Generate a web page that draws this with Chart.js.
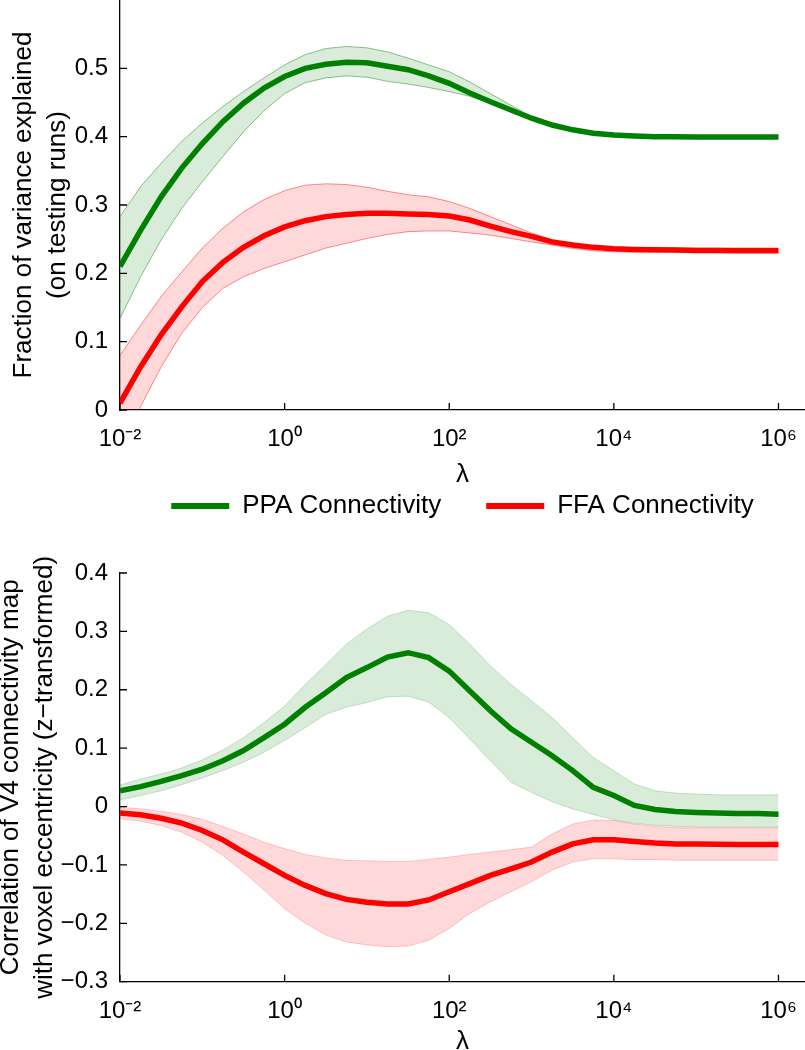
<!DOCTYPE html>
<html><head><meta charset="utf-8">
<script src="https://cdn.jsdelivr.net/npm/chart.js@4.4.1/dist/chart.umd.min.js"></script>
<style>
html,body{margin:0;padding:0;background:#fff;overflow:hidden;width:805px;height:1050px;}
#c1{position:absolute;left:0;top:0;}
#c2{position:absolute;left:0;top:420px;}
</style></head><body>
<canvas id="c1" width="805" height="490"></canvas>
<canvas id="c2" width="805" height="650"></canvas>
<script>
// ---- data ----
const lambdas = [0.01, 0.01778, 0.03162, 0.05623, 0.1, 0.1778, 0.3162, 0.5623, 1, 1.778, 3.162, 5.623,
  10, 17.78, 31.62, 56.23, 100, 177.8, 316.2, 562.3, 1000, 1778, 3162, 5623,
  10000, 17780, 31620, 56230, 100000, 177800, 316200, 562300, 1000000];

const xTickValues = [1e-2, 1e0, 1e2, 1e4, 1e6];
const xTickLabels = ['10\u207B\u00B2', '10\u2070', '10\u00B2', '10\u2074', '10\u2076'];
const topYTicks = [0, 0.1, 0.2, 0.3, 0.4, 0.5];
const bottomYTicks = [-0.3, -0.2, -0.1, 0, 0.1, 0.2, 0.3, 0.4];
const seriesNames = ['PPA Connectivity', 'FFA Connectivity'];
const xTitle = '\u03BB';
const topYTitle = ['Fraction of variance explained', '(on testing runs)'];
const bottomYTitle = ['Correlation of V4 connectivity map', 'with voxel eccentricity (z\u2212transformed)'];

// top panel: fraction of variance explained
const ppaVarMean = [0.210, 0.263, 0.312, 0.354, 0.390, 0.422, 0.449, 0.471, 0.488, 0.500, 0.506, 0.509,
  0.508, 0.503, 0.498, 0.489, 0.478, 0.464, 0.451, 0.439, 0.427, 0.417, 0.410, 0.405,
  0.4025, 0.401, 0.400, 0.3998, 0.3996, 0.3995, 0.3995, 0.3995, 0.3995];
const ppaVarUpper = [0.283, 0.327, 0.361, 0.393, 0.420, 0.444, 0.466, 0.486, 0.505, 0.520, 0.529, 0.532,
  0.530, 0.524, 0.515, 0.505, 0.495, 0.480, 0.463, 0.446, 0.429, 0.418, 0.411, 0.406,
  0.404, 0.403, 0.4025, 0.4022, 0.402, 0.402, 0.402, 0.402, 0.402];
const ppaVarLower = [0.134, 0.195, 0.249, 0.295, 0.334, 0.371, 0.407, 0.438, 0.463, 0.479, 0.486, 0.489,
  0.487, 0.481, 0.477, 0.472, 0.466, 0.459, 0.449, 0.438, 0.425, 0.416, 0.408, 0.4035,
  0.4005, 0.399, 0.398, 0.3975, 0.397, 0.397, 0.397, 0.397, 0.397];
const ffaVarMean = [0.010, 0.063, 0.110, 0.151, 0.188, 0.216, 0.238, 0.255, 0.268, 0.277, 0.283, 0.286,
  0.288, 0.288, 0.287, 0.286, 0.284, 0.278, 0.269, 0.261, 0.254, 0.246, 0.2415, 0.238,
  0.236, 0.235, 0.2345, 0.234, 0.2335, 0.2335, 0.233, 0.233, 0.233];
const ffaVarUpper = [0.080, 0.124, 0.166, 0.202, 0.237, 0.266, 0.290, 0.308, 0.321, 0.329, 0.331, 0.330,
  0.326, 0.320, 0.315, 0.312, 0.305, 0.295, 0.283, 0.271, 0.259, 0.249, 0.2425, 0.239,
  0.2375, 0.237, 0.237, 0.237, 0.237, 0.237, 0.237, 0.237, 0.237];
const ffaVarLower = [-0.060, 0.005, 0.063, 0.112, 0.150, 0.178, 0.195, 0.207, 0.217, 0.227, 0.237, 0.244,
  0.251, 0.257, 0.261, 0.262, 0.262, 0.259, 0.256, 0.251, 0.246, 0.2415, 0.2365, 0.233,
  0.2315, 0.231, 0.231, 0.231, 0.231, 0.231, 0.231, 0.231, 0.231];

// bottom panel: correlation with voxel eccentricity
const ppaCorrMean = [0.027, 0.034, 0.043, 0.053, 0.064, 0.0785, 0.096, 0.118, 0.141, 0.170, 0.195, 0.221,
  0.238, 0.256, 0.2635, 0.255, 0.232, 0.198, 0.164, 0.133, 0.110, 0.087, 0.0615, 0.033,
  0.019, 0.002, -0.005, -0.0085, -0.010, -0.011, -0.012, -0.012, -0.013];
const ppaCorrUpper = [0.037, 0.047, 0.0557, 0.066, 0.080, 0.097, 0.118, 0.144, 0.172, 0.209, 0.243, 0.278,
  0.304, 0.326, 0.336, 0.332, 0.312, 0.278, 0.241, 0.209, 0.181, 0.1525, 0.118, 0.084,
  0.0615, 0.0387, 0.027, 0.023, 0.0215, 0.020, 0.020, 0.020, 0.020];
const ppaCorrLower = [0.011, 0.019, 0.027, 0.0375, 0.049, 0.0615, 0.0757, 0.093, 0.113, 0.135, 0.158, 0.170,
  0.178, 0.188, 0.189, 0.179, 0.152, 0.1155, 0.0785, 0.0415, 0.0244, 0.008, -0.004, -0.0137,
  -0.0228, -0.0285, -0.032, -0.034, -0.035, -0.035, -0.035, -0.035, -0.035];
const ffaCorrMean = [-0.011, -0.014, -0.020, -0.0285, -0.041, -0.057, -0.078, -0.098, -0.118, -0.135, -0.149, -0.159,
  -0.164, -0.167, -0.167, -0.160, -0.146, -0.132, -0.118, -0.1066, -0.095, -0.078, -0.064, -0.057,
  -0.057, -0.060, -0.0626, -0.064, -0.064, -0.0645, -0.065, -0.065, -0.065];
const ffaCorrUpper = [-0.001, -0.004, -0.008, -0.0137, -0.022, -0.034, -0.047, -0.061, -0.072, -0.082, -0.088, -0.092,
  -0.093, -0.094, -0.094, -0.0905, -0.0866, -0.082, -0.078, -0.074, -0.0695, -0.047, -0.030, -0.023,
  -0.024, -0.030, -0.034, -0.0365, -0.0365, -0.0365, -0.0365, -0.0365, -0.0365];
const ffaCorrLower = [-0.021, -0.025, -0.0325, -0.044, -0.061, -0.084, -0.112, -0.143, -0.175, -0.200, -0.220, -0.232,
  -0.237, -0.240, -0.239, -0.229, -0.209, -0.183, -0.1634, -0.146, -0.129, -0.109, -0.095, -0.0895,
  -0.0895, -0.091, -0.091, -0.092, -0.092, -0.092, -0.092, -0.092, -0.092];

// ---- styling ----
const FONT = "'Liberation Sans', Arial, Helvetica, sans-serif";
Chart.defaults.font.family = FONT;
Chart.defaults.color = '#000';
const GREEN = '#008000', RED = '#ff0000';
const LINE_W = 5.5;
const TICK_FONT = 24, TITLE_FONT = 26;

const pts = arr => arr.map((v, i) => ({x: lambdas[i], y: v}));
const fmt = v => Math.abs(v) < 1e-9 ? '0' : (v < 0 ? '\u2212' + Math.abs(v).toFixed(1) : v.toFixed(1));

function datasets(pM, pU, pL, fM, fU, fL, edgeAlpha) {
  const base = {pointRadius: 0, tension: 0};
  return [
    {...base, label: seriesNames[0], data: pts(pM), borderColor: GREEN, borderWidth: LINE_W, fill: false},
    {...base, label: seriesNames[1], data: pts(fM), borderColor: RED, borderWidth: LINE_W, fill: false},
    {...base, label: 'PPA upper', data: pts(pU), borderColor: `rgba(0,128,0,${edgeAlpha})`, borderWidth: 1, fill: '+1', backgroundColor: 'rgba(0,128,0,0.15)'},
    {...base, label: 'PPA lower', data: pts(pL), borderColor: `rgba(0,128,0,${edgeAlpha})`, borderWidth: 1, fill: false},
    {...base, label: 'FFA upper', data: pts(fU), borderColor: `rgba(255,0,0,${edgeAlpha})`, borderWidth: 1, fill: '+1', backgroundColor: 'rgba(255,0,0,0.15)'},
    {...base, label: 'FFA lower', data: pts(fL), borderColor: `rgba(255,0,0,${edgeAlpha})`, borderWidth: 1, fill: false}
  ];
}

function scales(yMin, yMax, yTicks, yTitle, yTitlePad, xHeight, xTitlePadBottom) {
  return {
    x: {
      type: 'logarithmic', min: 0.01, max: 2.1e6,
      grid: {display: false, drawTicks: false},
      border: {display: true, color: '#000', width: 1.3},
      afterBuildTicks: s => { s.ticks = xTickValues.map(v => ({value: v})); },
      ticks: {
        autoSkip: false, maxRotation: 0, padding: 15,
        font: {size: TICK_FONT},
        callback: v => { const i = xTickValues.indexOf(v); return i >= 0 ? xTickLabels[i] : ''; }
      },
      title: {display: true, text: xTitle, font: {size: TITLE_FONT}, padding: {top: 0, bottom: xTitlePadBottom}},
      afterFit: s => { s.height = xHeight; s.paddingLeft = 0; s.paddingRight = 0; }
    },
    y: {
      min: yMin, max: yMax,
      grid: {display: false, drawTicks: false},
      border: {display: true, color: '#000', width: 1.3},
      afterBuildTicks: s => { s.ticks = yTicks.map(v => ({value: v})); },
      ticks: {padding: 12, font: {size: TICK_FONT}, callback: v => fmt(v)},
      title: {display: true, text: yTitle, font: {size: TITLE_FONT, lineHeight: 1.3}, padding: {top: yTitlePad, bottom: 0}},
      afterFit: s => { s.width = 120; s.paddingTop = 0; s.paddingBottom = 0; }
    }
  };
}

// inward tick marks (MATLAB style), placed through the chart's own scales
const inwardTicks = {
  id: 'inwardTicks',
  afterDatasetsDraw(chart) {
    const {ctx, chartArea: a, scales: {x, y}} = chart;
    ctx.save();
    ctx.strokeStyle = '#000';
    ctx.lineWidth = 1.3;
    ctx.beginPath();
    x.ticks.forEach(t => {
      const p = x.getPixelForValue(t.value);
      ctx.moveTo(p, a.bottom); ctx.lineTo(p, a.bottom - 7);
    });
    y.ticks.forEach(t => {
      const p = y.getPixelForValue(t.value);
      ctx.moveTo(a.left, p); ctx.lineTo(a.left + 7, p);
    });
    ctx.stroke();
    ctx.restore();
  }
};

// extra space between the legend row and the lower plot area
const LEGEND_EXTRA = 44;
const legendGap = {
  id: 'legendGap',
  afterInit(chart) {
    const lg = chart.legend;
    if (!lg || lg._gapPatched) return;
    const fit = lg.fit;
    lg.fit = function () { fit.call(this); if (this.options.display) this.height += LEGEND_EXTRA; };
    lg._gapPatched = true;
  }
};

const common = {
  responsive: false, animation: false, events: [],
  plugins: {tooltip: {enabled: false}}
};

new Chart(document.getElementById('c1'), {
  type: 'line',
  data: {datasets: datasets(ppaVarMean, ppaVarUpper, ppaVarLower, ffaVarMean, ffaVarUpper, ffaVarLower, 0.45)},
  options: {
    ...common,
    layout: {padding: {top: 0, right: 0, bottom: 0, left: 0}},
    plugins: {tooltip: {enabled: false}, legend: {display: false}},
    scales: scales(0, 0.6, topYTicks, topYTitle, 7, 80, 0)
  },
  plugins: [inwardTicks]
});

new Chart(document.getElementById('c2'), {
  type: 'line',
  data: {datasets: datasets(ppaCorrMean, ppaCorrUpper, ppaCorrLower, ffaCorrMean, ffaCorrUpper, ffaCorrLower, 0.2)},
  options: {
    ...common,
    layout: {padding: {top: 28, right: 0, bottom: 0, left: 0}},
    plugins: {
      tooltip: {enabled: false},
      legend: {
        display: true, position: 'top', fullSize: false,
        labels: {
          font: {size: TITLE_FONT}, boxWidth: 58, boxHeight: 6, padding: 45,
          generateLabels: () => seriesNames.map((n, i) => ({
            text: n, fillStyle: [GREEN, RED][i], strokeStyle: [GREEN, RED][i],
            lineWidth: 0, hidden: false, datasetIndex: i, fontColor: '#000'
          }))
        }
      }
    },
    scales: scales(-0.3, 0.4, bottomYTicks, bottomYTitle, -6, 88.3, 12.4)
  },
  plugins: [inwardTicks, legendGap]
});
</script>
</body></html>
